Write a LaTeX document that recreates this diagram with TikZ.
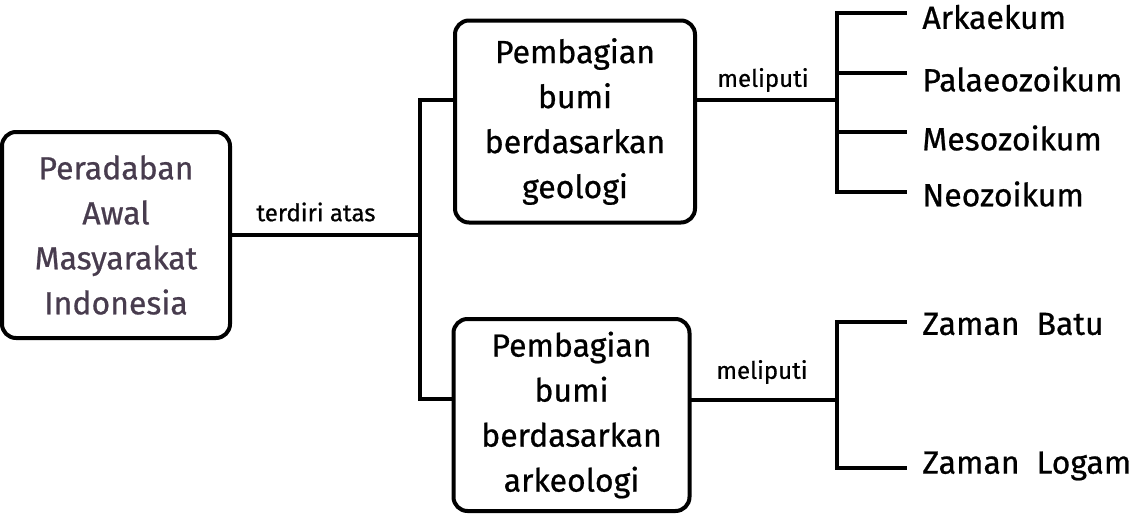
\documentclass[tikz,border=0pt]{standalone}
\usepackage{fontspec}
\setmainfont{Fira Sans}[FakeBold=0.7]
\definecolor{graytext}{RGB}{72,60,78}
\begin{document}
\begin{tikzpicture}[x=0.5pt,y=-0.5pt,
  box/.style={draw, line width=2pt, rounded corners=7pt, inner sep=0pt, align=center,
    font=\fontsize{16}{22.5}\selectfont},
  conn/.style={line width=2.3pt, line join=miter, line cap=rect},
  lbl/.style={font=\fontsize{12}{14}\selectfont, inner sep=0pt},
  item/.style={font=\fontsize{16}{19}\selectfont, anchor=west, inner sep=0pt}]
\useasboundingbox (0,0) rectangle (1136,514);
% boxes
\node[box, minimum width=114pt, minimum height=103pt, text=graytext] (b1) at (116,235)
  {Peradaban\\Awal\\Masyarakat\\Indonesia};
\node[box, minimum width=120pt, minimum height=101pt] (b2) at (575,121.5)
  {Pembagian\\bumi\\berdasarkan\\geologi};
\node[box, minimum width=118pt, minimum height=96pt] (b3) at (571.5,415)
  {Pembagian\\bumi\\berdasarkan\\arkeologi};
% junction coordinates
\coordinate (j) at (420,235);
\coordinate (j2) at (420,100);
\coordinate (j3) at (420,399);
\coordinate (k2) at (837,100);
\coordinate (k3) at (837,400);
% branch ends
\coordinate (e1) at (905,13);
\coordinate (e2) at (905,73);
\coordinate (e3) at (905,132);
\coordinate (e4) at (905,192);
\coordinate (f1) at (905,322);
\coordinate (f2) at (905,468);
% labels
\node[lbl] (l1) at (316,212) {terdiri atas};
\node[lbl] (l2) at (763,80) {meliputi};
\node[lbl] (l3) at (762,372) {meliputi};
% items
\node[item] (i1) at ([xshift=8.5pt,yshift=-2pt]e1) {Arkaekum};
\node[item] (i2) at ([xshift=8.5pt,yshift=-3pt]e2) {Palaeozoikum};
\node[item] (i3) at ([xshift=8.5pt,yshift=-3pt]e3) {Mesozoikum};
\node[item] (i4) at ([xshift=8.5pt,yshift=-1pt]e4) {Neozoikum};
\node[item] (z1) at ([xshift=8.5pt,yshift=-1pt]f1) {Zaman\ \ Batu};
\node[item] (z2) at ([xshift=8.5pt,yshift=1pt]f2) {Zaman\ \ Logam};
% connectors
\draw[conn] (b1.east |- j) -- (j);
\draw[conn] (b2.west |- j2) -- (j2) -- (j3) -- (b3.west |- j3);
\draw[conn] (b2.east |- k2) -- (k2);
\draw[conn] (e1) -- (e1 -| k2) -- (e4 -| k2) -- (e4);
\draw[conn] (e2 -| k2) -- (e2);
\draw[conn] (e3 -| k2) -- (e3);
\draw[conn] (b3.east |- k3) -- (k3);
\draw[conn] (f1) -- (f1 -| k3) -- (f2 -| k3) -- (f2);
\end{tikzpicture}
\end{document}
